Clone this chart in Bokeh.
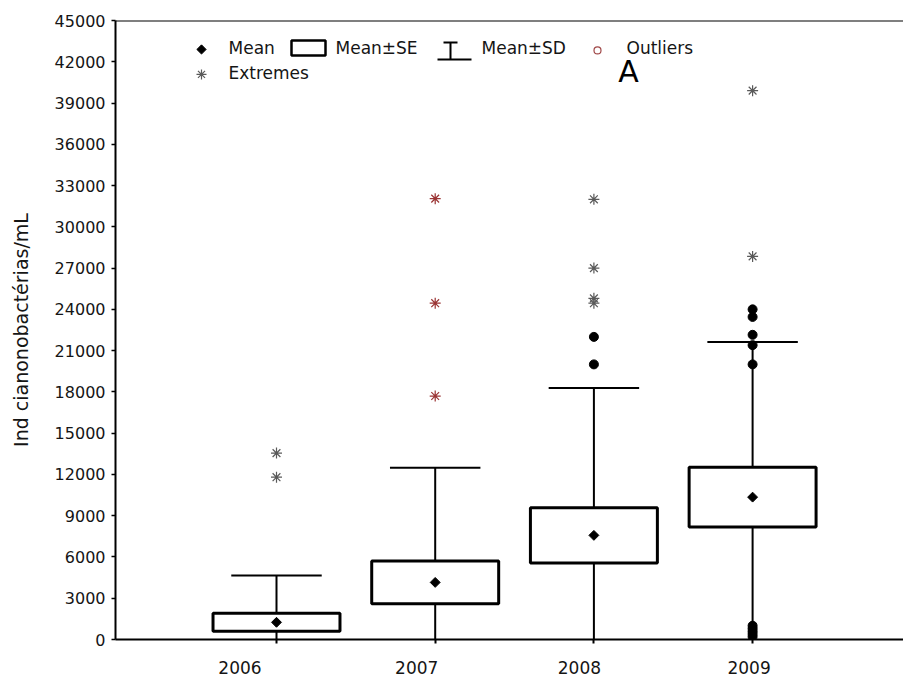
import math
from bokeh.plotting import figure
from bokeh.models import FixedTicker, Span, Label
from bokeh.embed import file_html
from bokeh.resources import INLINE

# ---------------- data ----------------
years = ["2006", "2007", "2008", "2009"]
means = [1250, 4150, 7570, 10350]
se = [650, 1560, 2000, 2180]
sd = [3400, 8330, 10720, 11280]

extreme_years = ["2006", "2006", "2007", "2007", "2007",
                 "2008", "2008", "2008", "2008", "2009", "2009"]
extreme_values = [13550, 11800, 32050, 24450, 17700,
                  32000, 27000, 24800, 24450, 39900, 27850]

outlier_years = ["2008", "2008", "2009", "2009", "2009", "2009", "2009",
                 "2009", "2009", "2009", "2009", "2009"]
outlier_values = [22000, 20000, 24000, 23450, 22150, 21400, 20000,
                  1000, 800, 600, 400, 200]

y_ticks = list(range(0, 45001, 3000))
y_title = "Ind cianonobactérias/mL"

# ---------------- layout / style ----------------
FONT = "DejaVu Sans"
TXT = "#151515"
W, H = 903, 676
FL, FT, FB = 115, 20, 640          # frame left / top / bottom in px
PX_PER_UNIT = 158.7                 # px between boxes
X0_PX = 276                         # px of first box centre
label_shift_px = [-36.5, -18.5, -14.5, -3.5]
BOX_W = 0.80
CAP_W = 0.57
DIAMOND = dict(marker="square", angle=math.pi / 4, size=7,
               fill_color="black", line_color="black")

pos = {y: i + 1 for i, y in enumerate(years)}
x_start = 1 + (FL - X0_PX) / PX_PER_UNIT
x_end = 1 + (W - X0_PX) / PX_PER_UNIT
Y_MAX = 45000


def px_x(px):
    return 1 + (px - X0_PX) / PX_PER_UNIT


def px_y(py):
    return (FB - py) * Y_MAX / (FB - FT)


p = figure(width=W, height=H, x_range=(x_start, x_end), y_range=(0, Y_MAX),
           output_backend="svg", toolbar_location=None,
           min_border_left=FL, min_border_right=0,
           min_border_top=FT, min_border_bottom=H - FB)
p.outline_line_color = None
p.xgrid.visible = False
p.ygrid.visible = False
p.background_fill_color = "white"

xs = [pos[y] for y in years]
box_top = [m + s for m, s in zip(means, se)]
box_bot = [m - s for m, s in zip(means, se)]
sd_top = [m + d for m, d in zip(means, sd)]
sd_bot = [m - d for m, d in zip(means, sd)]

# whiskers (outside the box)
p.segment(x0=xs, y0=box_top, x1=xs, y1=sd_top, line_color="black", line_width=2)
p.segment(x0=xs, y0=box_bot, x1=xs, y1=sd_bot, line_color="black", line_width=2)
p.segment(x0=[x - CAP_W / 2 for x in xs], y0=sd_top,
          x1=[x + CAP_W / 2 for x in xs], y1=sd_top, line_color="black", line_width=2)
p.segment(x0=[x - CAP_W / 2 for x in xs], y0=sd_bot,
          x1=[x + CAP_W / 2 for x in xs], y1=sd_bot, line_color="black", line_width=2)

# boxes (mean ± SE)
p.quad(left=[x - BOX_W / 2 for x in xs], right=[x + BOX_W / 2 for x in xs],
       top=box_top, bottom=box_bot, fill_color="white",
       line_color="black", line_width=3)

# means
p.scatter(x=xs, y=means, **DIAMOND)

# extremes
ext_col = ["#9b3434" if y == "2007" else "#5a5a5a" for y in extreme_years]
p.scatter(x=[pos[y] for y in extreme_years], y=extreme_values, marker="asterisk",
          size=11, line_color=ext_col, line_width=1.2)

# outliers (black dots)
p.scatter(x=[pos[y] for y in outlier_years], y=outlier_values, marker="circle",
          size=9, fill_color="black", line_color="black")

# ---------------- axes ----------------
label_pos = [pos[y] + s / PX_PER_UNIT for y, s in zip(years, label_shift_px)]
xa = p.xaxis[0]
xa.ticker = FixedTicker(ticks=label_pos, minor_ticks=xs)
xa.major_label_overrides = {lp: y for lp, y in zip(label_pos, years)}
xa.major_tick_line_color = None
xa.major_tick_out = 0
xa.major_tick_in = 0
xa.minor_tick_out = 4
xa.minor_tick_in = 0
xa.minor_tick_line_width = 2
xa.minor_tick_line_color = "black"
xa.axis_line_width = 2
xa.axis_line_color = "black"
xa.major_label_text_font = FONT
xa.major_label_text_font_size = "17px"
xa.major_label_text_color = TXT
xa.major_label_standoff = 17

ya = p.yaxis[0]
ya.ticker = FixedTicker(ticks=y_ticks, minor_ticks=[])
ya.axis_line_width = 2
ya.axis_line_color = "black"
ya.major_tick_out = 4
ya.major_tick_in = 0
ya.major_tick_line_width = 1.5
ya.major_tick_line_color = "black"
ya.minor_tick_line_color = None
ya.major_label_text_font = FONT
ya.major_label_text_font_size = "16px"
ya.major_label_text_color = TXT
ya.major_label_standoff = 6
ya.axis_label = y_title
ya.axis_label_text_font = FONT
ya.axis_label_text_font_size = "19px"
ya.axis_label_text_font_style = "normal"
ya.axis_label_text_color = TXT
ya.axis_label_standoff = 20

p.add_layout(Span(location=Y_MAX, dimension="width", line_color="black",
                  line_width=2))

# ---------------- legend (drawn by hand) ----------------
LEG_FS = "17px"
leg_diamond = dict(DIAMOND, size=6.5)
p.scatter(x=[px_x(201)], y=[px_y(49)], **leg_diamond)
p.quad(left=[px_x(291)], right=[px_x(325)], top=[px_y(40)], bottom=[px_y(55)],
       fill_color="white", line_color="black", line_width=2.5)
p.segment(x0=[px_x(443), px_x(437), px_x(450)], y0=[px_y(42), px_y(59), px_y(42)],
          x1=[px_x(457), px_x(471), px_x(450)], y1=[px_y(42), px_y(59), px_y(59)],
          line_color="black", line_width=2)
p.scatter(x=[px_x(597)], y=[px_y(50)], marker="circle", size=7,
          fill_color=None, line_color="#a04848", line_width=1.2)
p.scatter(x=[px_x(201)], y=[px_y(74)], marker="asterisk", size=10,
          line_color="#5a5a5a", line_width=1.2)

for txt, lx, ly in [("Mean", 228, 48), ("Mean±SE", 335, 48),
                    ("Mean±SD", 481, 48), ("Outliers", 626, 48),
                    ("Extremes", 228, 73)]:
    p.add_layout(Label(x=px_x(lx), y=px_y(ly), text=txt, text_font=FONT,
                       text_font_size=LEG_FS, text_color=TXT,
                       text_baseline="middle", text_align="left"))

p.add_layout(Label(x=px_x(628), y=px_y(71), text="A", text_font=FONT,
                   text_font_size="30px", text_color="black",
                   text_baseline="middle", text_align="center"))

open("out.html", "w").write(file_html(p, INLINE))
